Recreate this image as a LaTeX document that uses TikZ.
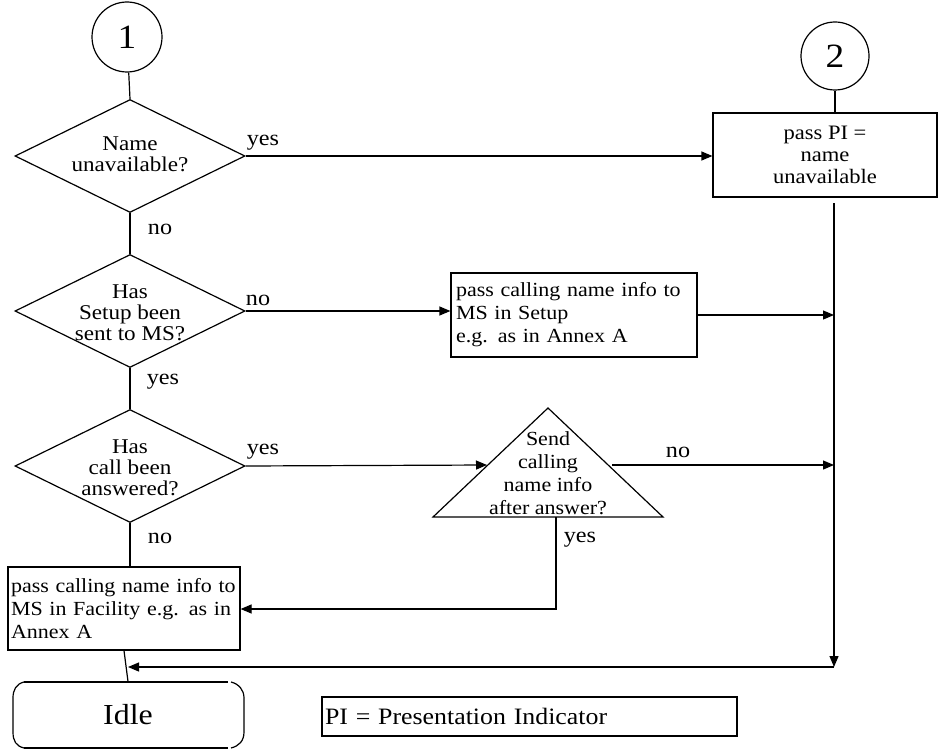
\documentclass[tikz,border=0pt]{standalone}
\usepackage{fontspec}
\setmainfont{Liberation Serif}[FakeStretch=1.1]
\usetikzlibrary{shapes.geometric,arrows.meta}
\begin{document}
\begin{tikzpicture}[x=1pt,y=-1pt,line width=1.2pt,
  lbl/.style={font=\fontsize{22}{24}\selectfont,inner sep=0pt},
  dia/.style={diamond,draw,minimum width=230pt,minimum height=113pt,inner sep=0pt},
  dtext/.style={align=center,inner sep=0pt,font=\fontsize{21}{21}\selectfont},
  boxl/.style={draw,rectangle,inner ysep=0pt,align=left,font=\fontsize{20}{23}\selectfont},
  conn/.style={circle,draw,minimum size=70pt,inner sep=0pt,font=\fontsize{34}{34}\selectfont},
  arr/.style={-{Triangle[length=11pt,width=9pt]}}]
\useasboundingbox (0,0) rectangle (939,749);
% connectors (circles)
\node[conn] (c1) at (127,37) {1};
\node[conn,minimum size=68pt] (c2) at (835,56) {2};
% decisions
\node[dia] (d1) at (130,156) {};
\node[dtext] (d1t) at (130,154) {Name\\unavailable?};
\node[dia] (d2) at (130,311) {};
\node[dtext] (d2t) at (130,313) {Has\\Setup been\\sent to MS?};
\node[dia] (d3) at (130,466) {};
\node[dtext] (d3t) at (130,468) {Has\\call been\\answered?};
% boxes
\node[draw,rectangle,minimum width=224pt,minimum height=84pt,inner sep=0pt,align=center,font=\fontsize{20.5}{22}\selectfont] (b1) at (825,155) {pass PI =\\name\\unavailable};
\node[boxl,text width=236pt,inner xsep=5pt,minimum height=84pt] (b2) at (574,315) {pass calling name info to\\MS in Setup\\e.g. as in Annex A};
\node[boxl,text width=226pt,inner xsep=3pt,minimum height=83pt] (b3) at (124,608.5) {pass calling name info to\\MS in Facility e.g. as in\\Annex A};
\node[draw,rectangle,text width=409pt,inner xsep=3pt,minimum height=39pt,inner ysep=0pt,align=left,font=\fontsize{23.5}{25}\selectfont] (pi) at (529.5,716.5) {PI = Presentation Indicator};
% triangle decision
\draw (548,408) -- (433,517) -- (663,517) -- cycle;
\node[align=center,inner sep=0pt,font=\fontsize{20}{23}\selectfont] (tri) at (548,473) {Send\\calling\\name info\\after answer?};
\coordinate (tl) at (487,465);
\coordinate (tr) at (612,465);
\coordinate (tb) at (556,517);
% idle terminator
\node[minimum width=232pt,minimum height=66pt,inner sep=0pt,font=\fontsize{29}{29}\selectfont] (idle) at (128,715) {Idle};
\draw (24,682) -- (228,682) (24,748) -- (228,748);
\draw (24,682) .. controls (16,684) and (13,690) .. (13,698) -- (13,732) .. controls (13,741) and (16,746) .. (24,748);
\draw (231,682) .. controls (239,684) and (244,690) .. (244,698) -- (244,732) .. controls (244,741) and (239,746) .. (231,748);
% right collector line
\coordinate (vtop) at (834,203);
\coordinate (vbot) at (834,667);
% connectors
\draw (c1) -- (d1.north);
\draw (c2) -- (b1.north -| c2);
\draw[arr] (d1.east) -- (b1.west |- d1.east);
\draw (d1.south) -- (d2.north);
\draw[arr] (d2.east) -- (b2.west |- d2.east);
\draw[arr] (b2.east) -- (b2.east -| vtop);
\draw (d2.south) -- (d3.north);
\draw[arr] (d3.east) -- (tl);
\draw[arr] (tr) -- (tr -| vtop);
\draw[arr] (tb) -- (556,609) -- (b3.east |- 0,609);
\draw (d3.south) -- (b3.north -| d3.south);
\draw[arr] (vtop) -- (vbot);
\draw[arr] (vbot) -- (128,667);
\draw (b3.south) -- (idle.north);
% labels
\node[lbl] (l1) at (263,143) {yes};
\node[lbl] (l2) at (160,229) {no};
\node[lbl] (l3) at (258,300) {no};
\node[lbl] (l4) at (163,382) {yes};
\node[lbl] (l5) at (263,452) {yes};
\node[lbl] (l6) at (160,538) {no};
\node[lbl] (l7) at (678,452) {no};
\node[lbl] (l8) at (580,540) {yes};
\end{tikzpicture}
\end{document}
